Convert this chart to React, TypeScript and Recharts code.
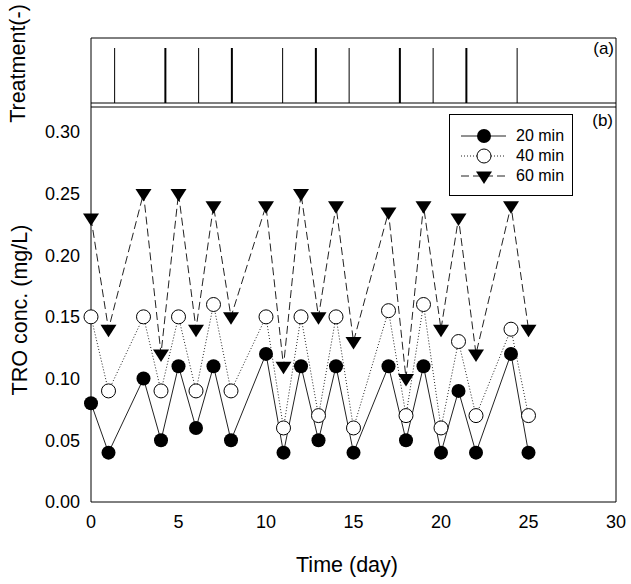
import React from 'react';
import { ComposedChart, LineChart, Line, XAxis, YAxis, ReferenceLine, Legend } from 'recharts';

const FONT = '"Liberation Sans", Arial, sans-serif';

// sampling days and TRO concentration (mg/L) for each contact time
const days = [0, 1, 3, 4, 5, 6, 7, 8, 10, 11, 12, 13, 14, 15, 17, 18, 19, 20, 21, 22, 24, 25];
const tro20 = [0.08, 0.04, 0.1, 0.05, 0.11, 0.06, 0.11, 0.05, 0.12, 0.04, 0.11, 0.05, 0.11, 0.04, 0.11, 0.05, 0.11, 0.04, 0.09, 0.04, 0.12, 0.04];
const tro40 = [0.15, 0.09, 0.15, 0.09, 0.15, 0.09, 0.16, 0.09, 0.15, 0.06, 0.15, 0.07, 0.15, 0.06, 0.155, 0.07, 0.16, 0.06, 0.13, 0.07, 0.14, 0.07];
const tro60 = [0.23, 0.14, 0.25, 0.12, 0.25, 0.14, 0.24, 0.15, 0.24, 0.11, 0.25, 0.15, 0.24, 0.13, 0.235, 0.1, 0.24, 0.14, 0.23, 0.12, 0.24, 0.14];

const xTicks = [0, 5, 10, 15, 20, 25, 30];
const yTicks = [0, 0.05, 0.1, 0.15, 0.2, 0.25, 0.3];

// treatment events for panel (a)
const treatmentDays = [1.35, 4.25, 6.15, 8.05, 10.95, 12.85, 14.75, 17.65, 19.55, 21.45, 24.35];
const treatmentKind = ['single', 'double', 'single', 'double', 'single', 'double', 'single', 'double', 'single', 'double', 'single'];
const treatmentLevel = 1;

const rows = days.map((day, i) => ({ day, m20: tro20[i], m40: tro40[i], m60: tro60[i] }));
const treatmentRows = treatmentDays.map((x, i) => ({ x, level: treatmentLevel, kind: treatmentKind[i] }));

const SERIES = [
  { key: 'm20', name: '20 min', marker: 'filled', dash: undefined as string | undefined },
  { key: 'm40', name: '40 min', marker: 'open', dash: '1 2' },
  { key: 'm60', name: '60 min', marker: 'down', dash: '8 4' },
];

const Marker = ({ cx, cy, kind }: { cx: number; cy: number; kind: string }) => {
  if (kind === 'filled') return <circle cx={cx} cy={cy} r={7} fill="#000" />;
  if (kind === 'open') return <circle cx={cx} cy={cy} r={7} fill="#fff" stroke="#000" strokeWidth={1} />;
  return <path d={`M${cx - 8},${cy - 4.5}L${cx + 8},${cy - 4.5}L${cx},${cy + 8}Z`} fill="#000" />;
};

const LegendBox = () => (
  <div
    style={{
      width: 124,
      height: 82,
      boxSizing: 'border-box',
      border: '1px solid #000',
      background: '#fff',
      paddingTop: 11,
      fontFamily: FONT,
      fontSize: 16,
      color: '#000',
    }}
  >
    {SERIES.map((s) => (
      <div key={s.key} style={{ display: 'flex', alignItems: 'center', height: 20 }}>
        <svg width={66} height={20}>
          <line x1={11} x2={56} y1={10} y2={10} stroke="#222" strokeDasharray={s.dash} />
          <Marker cx={34} cy={10} kind={s.marker} />
        </svg>
        <span>{s.name}</span>
      </div>
    ))}
  </div>
);

const axisLine = { stroke: '#000' };

export default function App() {
  return (
    <div style={{ position: 'absolute', left: 0, top: 0, width: 631, height: 584, background: '#fff' }}>
      {/* panel (b): TRO concentration */}
      <div style={{ position: 'absolute', left: 0, top: 0 }}>
        <ComposedChart width={631} height={584} data={rows} margin={{ top: 103, right: 15, bottom: 7, left: 31 }}>
          <XAxis
            xAxisId="b"
            type="number"
            dataKey="day"
            domain={[0, 30]}
            ticks={xTicks}
            height={75}
            tickLine={false}
            tickSize={4}
            tickMargin={9}
            axisLine={axisLine}
            tick={{ fontSize: 18, fill: '#000', fontFamily: FONT }}
            label={{ value: 'Time (day)', position: 'insideBottom', offset: 5, dx: -6.5, fontSize: 21.5, fill: '#000', fontFamily: FONT }}
          />
          <XAxis xAxisId="bm" type="number" dataKey="day" domain={[0, 30]} ticks={xTicks} mirror tick={false} tickSize={4} axisLine={false} tickLine={axisLine} />
          <XAxis xAxisId="t" orientation="top" type="number" dataKey="day" domain={[0, 30]} ticks={xTicks} height={4} tick={false} tickSize={4} axisLine={axisLine} tickLine={axisLine} />
          <YAxis
            yAxisId="l"
            type="number"
            domain={[0, 0.32]}
            ticks={yTicks}
            width={60}
            tickLine={false}
            tickSize={4}
            tickMargin={7}
            axisLine={axisLine}
            tickFormatter={(v: number) => v.toFixed(2)}
            tick={{ fontSize: 18, fill: '#000', fontFamily: FONT }}
            label={{ value: 'TRO conc. (mg/L)', angle: -90, position: 'center', dx: -41.5, dy: 5.5, fontSize: 21.5, fill: '#000', fontFamily: FONT }}
          />
          <YAxis yAxisId="lm" type="number" domain={[0, 0.32]} ticks={yTicks} mirror tick={false} tickSize={4} axisLine={false} tickLine={axisLine} />
          <ReferenceLine xAxisId="b" yAxisId="l" x={30} stroke="#000" />
          {SERIES.map((s) => (
            <Line
              key={s.key}
              xAxisId="b"
              yAxisId="l"
              dataKey={s.key}
              name={s.name}
              type="linear"
              stroke="#222"
              strokeWidth={1}
              strokeDasharray={s.dash}
              isAnimationActive={false}
              dot={(p: any) => <Marker key={`${s.key}-${p.index}`} cx={p.cx} cy={p.cy} kind={s.marker} />}
              activeDot={false}
            />
          ))}
          <Legend
            content={() => <LegendBox />}
            layout="vertical"
            align="center"
            verticalAlign="middle"
            wrapperStyle={{ left: 449, top: 114, width: 124, height: 82 }}
          />
          <text x={613} y={126} textAnchor="end" fontSize={17} fontFamily={FONT} fill="#000">(b)</text>
        </ComposedChart>
      </div>

      {/* panel (a): treatment events */}
      <div style={{ position: 'absolute', left: 0, top: 0 }}>
        <LineChart width={631} height={130} data={treatmentRows} margin={{ top: 38, right: 15, bottom: 22, left: 31 }}>
          <XAxis type="number" dataKey="x" domain={[0, 30]} height={1} tick={false} tickLine={false} axisLine={false} />
          <YAxis
            type="number"
            domain={[-4 / 55, 65 / 55]}
            width={60}
            tick={false}
            tickLine={false}
            axisLine={axisLine}
            label={{ value: 'Treatment(-)', angle: -90, position: 'center', dx: -44, dy: -9, fontSize: 21.5, fill: '#000', fontFamily: FONT }}
          />
          {/* carries the event data so both axes get their scales; the strokes are drawn below */}
          <Line dataKey="level" stroke="none" dot={false} activeDot={false} isAnimationActive={false} legendType="none" />
          <ReferenceLine y={0} stroke="#000" />
          <ReferenceLine y={65 / 55} stroke="#000" />
          <ReferenceLine x={30} stroke="#000" />
          {treatmentRows.map((r) => (
            <ReferenceLine
              key={r.x}
              segment={[{ x: r.x, y: 0 }, { x: r.x, y: r.level }]}
              stroke="#000"
              strokeWidth={r.kind === 'double' ? 2 : 1}
            />
          ))}
          <text x={614} y={54.4} textAnchor="end" fontSize={17} fontFamily={FONT} fill="#000">(a)</text>
        </LineChart>
      </div>
    </div>
  );
}
